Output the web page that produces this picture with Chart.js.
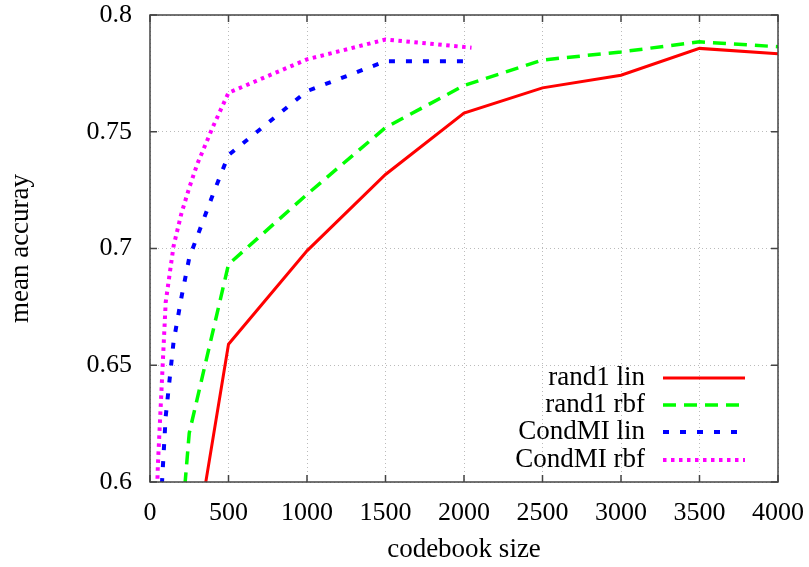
<!DOCTYPE html>
<html>
<head>
<meta charset="utf-8">
<script src="https://cdn.jsdelivr.net/npm/chart.js@4/dist/chart.umd.min.js"></script>
<style>
    html, body { margin: 0; padding: 0; background: #fff; }
    #wrap { width: 809px; height: 567px; }
</style>
</head>
<body>
<div id="wrap"><canvas id="chart" width="809" height="567"></canvas></div>
<script>
// codebook sizes and mean accuracy per series
const sizesRand1Lin = [250, 500, 1000, 1500, 2000, 2500, 3000, 3500, 4000];
const accRand1Lin = [0.557, 0.659, 0.699, 0.7317, 0.758, 0.7688, 0.7742, 0.7857, 0.7834];

const sizesRand1Rbf = [100, 250, 500, 1000, 1500, 2000, 2500, 3000, 3500, 4000];
const accRand1Rbf = [0.50, 0.621, 0.6932, 0.7232, 0.7518, 0.7698, 0.7807, 0.7842, 0.7885, 0.7864];

const sizesCondMILin = [50, 75, 100, 150, 200, 250, 300, 400, 500, 1000, 1500, 2000, 2048];
const accCondMILin = [0.57, 0.598, 0.628, 0.660, 0.679, 0.696, 0.705, 0.723, 0.740, 0.7674, 0.7802, 0.7802, 0.7788];

const sizesCondMIRbf = [25, 50, 100, 150, 200, 250, 300, 400, 500, 1000, 1500, 2048];
const accCondMIRbf = [0.55, 0.607, 0.677, 0.701, 0.715, 0.726, 0.736, 0.752, 0.7667, 0.781, 0.7895, 0.786];

const xTicks = [0, 500, 1000, 1500, 2000, 2500, 3000, 3500, 4000];
const yTicks = [0.6, 0.65, 0.7, 0.75, 0.8];

const FONT = 'Liberation Serif';

function toPoints(xs, ys) {
    return xs.map((x, i) => ({ x: x, y: ys[i] }));
}

// gnuplot style frame, inward ticks and legend
const framePlugin = {
    id: 'frame',
    afterDatasetsDraw(chart) {
        const { ctx, chartArea: a, scales } = chart;
        ctx.save();
        ctx.strokeStyle = '#444';
        ctx.lineWidth = 1.5;
        ctx.setLineDash([]);
        ctx.beginPath();
        xTicks.forEach(v => {
            const px = scales.x.getPixelForValue(v);
            ctx.moveTo(px, a.bottom); ctx.lineTo(px, a.bottom - 7);
            ctx.moveTo(px, a.top); ctx.lineTo(px, a.top + 7);
        });
        yTicks.forEach(v => {
            const py = scales.y.getPixelForValue(v);
            ctx.moveTo(a.left, py); ctx.lineTo(a.left + 7, py);
            ctx.moveTo(a.right, py); ctx.lineTo(a.right - 7, py);
        });
        ctx.stroke();
        ctx.strokeRect(a.left, a.top, a.right - a.left, a.bottom - a.top);

        // legend
        const rows = [104, 77, 50, 22];
        ctx.font = '27px "' + FONT + '"';
        ctx.textAlign = 'right';
        ctx.textBaseline = 'middle';
        chart.data.datasets.forEach((ds, i) => {
            const y = a.bottom - rows[i];
            ctx.fillStyle = '#000';
            ctx.fillText(ds.label, a.right - 133, y);
            ctx.strokeStyle = ds.borderColor;
            ctx.lineWidth = ds.borderWidth;
            ctx.setLineDash(ds.borderDash || []);
            ctx.beginPath();
            ctx.moveTo(a.right - 115, y);
            ctx.lineTo(a.right - 33, y);
            ctx.stroke();
        });
        ctx.restore();
    }
};

const common = { fill: false, pointRadius: 0, tension: 0, borderCapStyle: 'butt' };

new Chart(document.getElementById('chart'), {
    type: 'line',
    data: {
        datasets: [
            { ...common, label: 'rand1 lin', data: toPoints(sizesRand1Lin, accRand1Lin),
              borderColor: '#ff0000', borderWidth: 3 },
            { ...common, label: 'rand1 rbf', data: toPoints(sizesRand1Rbf, accRand1Rbf),
              borderColor: '#00ff00', borderWidth: 3.5, borderDash: [13, 8] },
            { ...common, label: 'CondMI lin', data: toPoints(sizesCondMILin, accCondMILin),
              borderColor: '#0000ff', borderWidth: 4, borderDash: [6, 11] },
            { ...common, label: 'CondMI rbf', data: toPoints(sizesCondMIRbf, accCondMIRbf),
              borderColor: '#ff00ff', borderWidth: 4, borderDash: [3.5, 4.5] }
        ]
    },
    options: {
        responsive: false,
        animation: false,
        layout: { padding: { top: 15, right: 31, left: 0, bottom: 0 } },
        plugins: { legend: { display: false }, tooltip: { enabled: false } },
        scales: {
            x: {
                type: 'linear',
                min: 0,
                max: 4000,
                afterBuildTicks: s => { s.ticks = xTicks.map(v => ({ value: v })); },
                afterFit: s => { s.height = 85; s.paddingLeft = 0; s.paddingRight = 0; },
                ticks: { color: '#000', font: { family: FONT, size: 26 }, padding: 16, maxRotation: 0,
                         callback: v => String(v) },
                grid: { color: '#bbb', lineWidth: 1, drawTicks: false },
                border: { display: false, dash: [1, 3] },
                title: { display: true, text: 'codebook size', color: '#000',
                         font: { family: FONT, size: 27 }, padding: { top: 0, bottom: 1 } }
            },
            y: {
                type: 'linear',
                min: 0.6,
                max: 0.8,
                afterBuildTicks: s => { s.ticks = yTicks.map(v => ({ value: v })); },
                afterFit: s => { s.width = 150; s.paddingTop = 0; s.paddingBottom = 0; },
                ticks: { color: '#000', font: { family: FONT, size: 26 }, padding: 18,
                         callback: v => String(v) },
                grid: { color: '#bbb', lineWidth: 1, drawTicks: false },
                border: { display: false, dash: [1, 3] },
                title: { display: true, text: 'mean accuray', color: '#000',
                         font: { family: FONT, size: 27 }, padding: { top: 5, bottom: 0 } }
            }
        }
    },
    plugins: [framePlugin]
});
</script>
</body>
</html>
